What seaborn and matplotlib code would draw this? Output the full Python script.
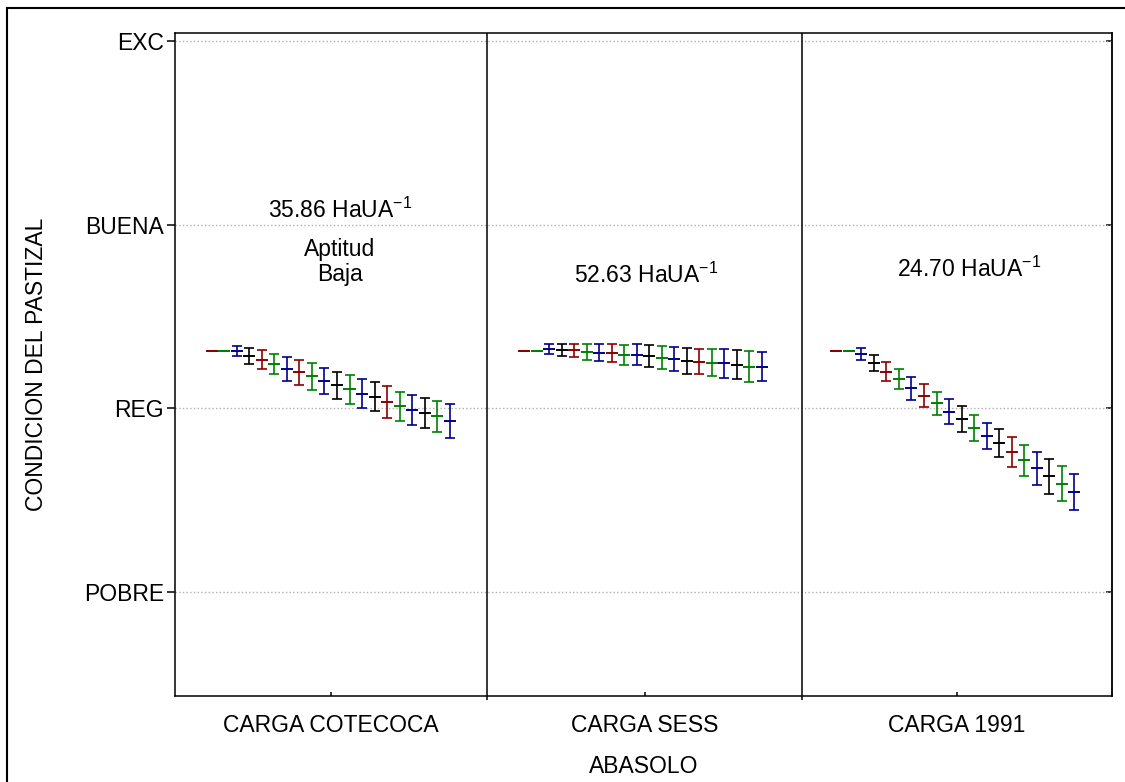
import numpy as np
import pandas as pd
import matplotlib
matplotlib.use("Agg")
import matplotlib.pyplot as plt
import seaborn as sns
from matplotlib.patches import Rectangle

# Data
panels = ["CARGA COTECOCA", "CARGA SESS", "CARGA 1991"]
ytick_labels = ["POBRE", "REG", "BUENA", "EXC"]
ytick_values = [1, 2, 3, 4]
carga_text = ["35.86 HaUA", "52.63 HaUA", "24.70 HaUA"]

step_colors = ["#8b0000", "#008000", "#00008b", "black", "#8b0000", "#008000", "#00008b",
               "#8b0000", "#008000", "#00008b", "black", "#008000", "#00008b", "black",
               "#8b0000", "#008000", "#00008b", "black", "#008000", "#00008b"]

cotecoca_y = [2.315, 2.315, 2.310, 2.286, 2.266, 2.241, 2.214, 2.196, 2.174, 2.147,
              2.125, 2.103, 2.080, 2.064, 2.036, 2.011, 1.991, 1.975, 1.957, 1.931]
cotecoca_err = [0, 0, 0.027, 0.042, 0.053, 0.056, 0.064, 0.069, 0.072, 0.071,
                0.075, 0.080, 0.080, 0.079, 0.086, 0.080, 0.083, 0.083, 0.086, 0.092]

sess_y = [2.315, 2.315, 2.322, 2.319, 2.317, 2.308, 2.304, 2.303, 2.292, 2.292,
          2.286, 2.277, 2.268, 2.259, 2.254, 2.248, 2.245, 2.237, 2.228, 2.228]
sess_err = [0, 0, 0.027, 0.034, 0.035, 0.042, 0.047, 0.048, 0.054, 0.056,
            0.058, 0.061, 0.066, 0.071, 0.069, 0.073, 0.077, 0.079, 0.082, 0.080]

c1991_y = [2.315, 2.315, 2.295, 2.245, 2.199, 2.158, 2.109, 2.069, 2.029, 1.982,
           1.942, 1.893, 1.851, 1.811, 1.761, 1.717, 1.674, 1.630, 1.591, 1.543]
c1991_err = [0, 0, 0.033, 0.043, 0.051, 0.055, 0.061, 0.063, 0.063, 0.068,
             0.070, 0.071, 0.069, 0.076, 0.081, 0.082, 0.091, 0.094, 0.097, 0.098]

# build a long table
rows = []
for p, (ys, es) in enumerate([(cotecoca_y, cotecoca_err), (sess_y, sess_err), (c1991_y, c1991_err)]):
    for j in range(len(ys)):
        rows.append({"panel": panels[p], "x": p + 0.1175 + j * 0.0401,
                     "y": ys[j], "err": es[j], "color": step_colors[j]})
df = pd.DataFrame(rows)

sns.set_style("white")
plt.rcParams["font.family"] = ["Liberation Sans", "DejaVu Sans"]
plt.rcParams["mathtext.fontset"] = "custom"
plt.rcParams["mathtext.rm"] = "Liberation Sans"
plt.rcParams["mathtext.it"] = "Liberation Sans:italic"
plt.rcParams["mathtext.default"] = "regular"
for k in ["text.color", "axes.labelcolor", "xtick.color", "ytick.color"]:
    plt.rcParams[k] = "black"

fig = plt.figure(figsize=(11.25, 7.82), dpi=100)
ax = fig.add_axes([0.1556, 0.1100, 0.8328, 0.8478])

for c in df["color"].unique():
    sub = df[df["color"] == c]
    ax.errorbar(sub["x"], sub["y"], yerr=sub["err"], fmt="none", ecolor=c,
                elinewidth=1.2, capsize=3.7, capthick=1.2, zorder=3)
sns.scatterplot(data=df, x="x", y="y", hue="color", palette={c: c for c in step_colors},
                marker="_", s=75, linewidth=1.4, legend=False, ax=ax, zorder=4)

# panel dividers
for d in [1.0, 2.008]:
    ax.axvline(d, color="black", lw=1.1, zorder=2)

ax.set_xlim(0, 3)
ax.set_ylim(0.436, 4.042)
ax.set_yticks(ytick_values)
ax.set_yticklabels(ytick_labels, fontsize=16.5)
ax.set_xticks([0.5, 1.504, 2.504])
ax.set_xticklabels(panels, fontsize=16.5)
ax.set_xticks([1.0, 2.008], minor=True)
ax.tick_params(axis="x", which="major", bottom=True, direction="in", length=3, width=1.1, pad=13)
ax.tick_params(axis="x", which="minor", bottom=True, direction="out", length=3, width=1.1)
ax.tick_params(axis="y", which="major", left=True, direction="out", length=6, width=1.1, pad=2)
ax.yaxis.grid(True, linestyle=":", color="#b0b0b0", lw=1.0)
ax.set_axisbelow(True)

sec = ax.secondary_yaxis("right")
sec.set_yticks(ytick_values)
sec.set_yticklabels([])
sec.tick_params(right=True, direction="in", length=4, width=1.1)

for s in ax.spines.values():
    s.set_color("black")
    s.set_linewidth(1.1)
    s.set_visible(True)
sec.spines["right"].set_linewidth(1.1)

ax.set_xlabel("ABASOLO", fontsize=16.5)
ax.xaxis.set_label_coords(0.5, -0.089)
ax.set_ylabel("CONDICION DEL PASTIZAL", fontsize=16.5)
ax.yaxis.set_label_coords(-0.136, 0.5)

# annotations
ann_x = [0.528, 1.51, 2.544]
ann_y = [3.037, 2.684, 2.717]
for t, x, y in zip(carga_text, ann_x, ann_y):
    ax.text(x, y, t + r"$^{-1}$", ha="center", va="baseline", fontsize=16.5)
ax.text(0.528, 2.827, "Aptitud", ha="center", va="baseline", fontsize=16.5)
ax.text(0.528, 2.691, "Baja", ha="center", va="baseline", fontsize=16.5)

# outer frame
fig.add_artist(Rectangle((7 / 1125, -0.1), 1.5, 1.1 - 8 / 782, transform=fig.transFigure,
                         fill=False, lw=1.5, edgecolor="black"))

fig.savefig("out.png", dpi=100)
